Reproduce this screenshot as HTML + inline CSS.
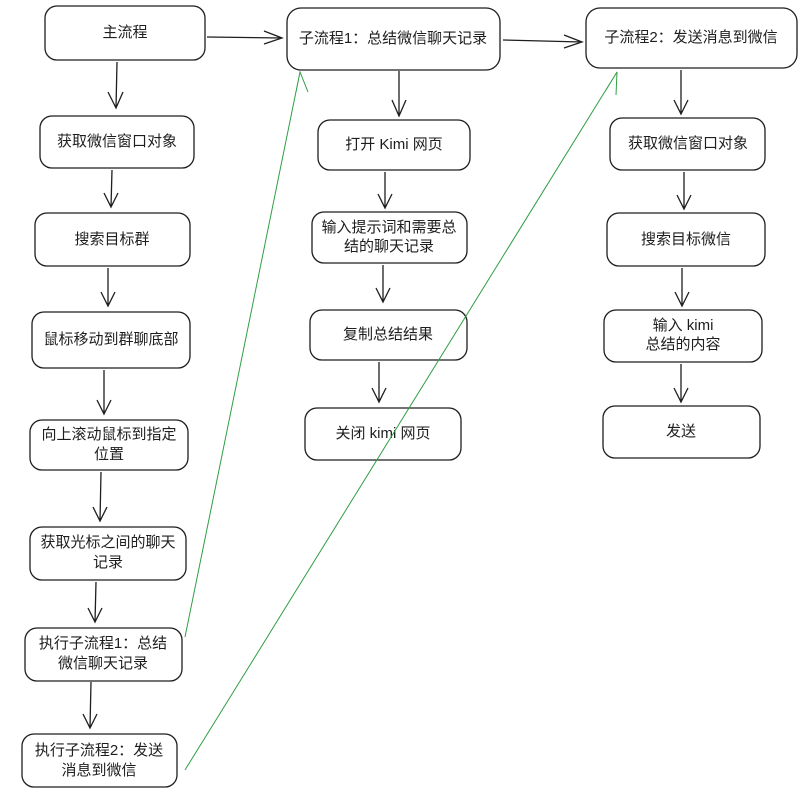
<!DOCTYPE html>
<html><head><meta charset="utf-8"><style>
html,body{margin:0;padding:0;background:#fff}
svg{display:block}
text{font-family:"Liberation Sans","Noto Sans CJK SC",sans-serif;font-size:15px;fill:#1e1e1e;text-anchor:middle;dominant-baseline:middle}
.b{fill:#fff;stroke:#1e1e1e;stroke-width:1.3}
.a{stroke:#1e1e1e;stroke-width:1.3;fill:none}
.g{stroke:#2f9e44;stroke-width:1;fill:none}
</style></head><body>
<svg width="811" height="799" viewBox="0 0 811 799" xmlns="http://www.w3.org/2000/svg">
<!-- column 1 -->
<rect class="b" x="45" y="6" width="160" height="54" rx="12"/><text x="125" y="33">主流程</text>
<rect class="b" x="40" y="116" width="154" height="52" rx="12"/><text x="117" y="142">获取微信窗口对象</text>
<rect class="b" x="35" y="213" width="155" height="53" rx="12"/><text x="112" y="240">搜索目标群</text>
<rect class="b" x="32" y="312" width="158" height="56" rx="12"/><text x="111" y="340">鼠标移动到群聊底部</text>
<rect class="b" x="30" y="420" width="158" height="50" rx="12"/><text x="109" y="435">向上滚动鼠标到指定</text><text x="109" y="455">位置</text>
<rect class="b" x="30" y="527" width="156" height="53" rx="12"/><text x="108" y="543">获取光标之间的聊天</text><text x="108" y="563">记录</text>
<rect class="b" x="25" y="628" width="157" height="53" rx="12"/><text x="103" y="644">执行子流程1：总结</text><text x="103" y="664">微信聊天记录</text>
<rect class="b" x="22" y="734" width="155" height="53" rx="12"/><text x="99" y="751">执行子流程2：发送</text><text x="99" y="771">消息到微信</text>
<!-- column 2 -->
<rect class="b" x="287" y="8" width="213" height="62" rx="14"/><text x="393" y="39">子流程1：总结微信聊天记录</text>
<rect class="b" x="318" y="120" width="152" height="50" rx="12"/><text x="394" y="145">打开 Kimi 网页</text>
<rect class="b" x="312" y="212" width="155" height="51" rx="12"/><text x="389" y="228">输入提示词和需要总</text><text x="389" y="247">结的聊天记录</text>
<rect class="b" x="310" y="310" width="157" height="50" rx="12"/><text x="388" y="335">复制总结结果</text>
<rect class="b" x="305" y="408" width="156" height="52" rx="12"/><text x="383" y="434">关闭 kimi 网页</text>
<!-- column 3 -->
<rect class="b" x="586" y="8" width="211" height="60" rx="14"/><text x="691" y="38">子流程2：发送消息到微信</text>
<rect class="b" x="610" y="118" width="155" height="52" rx="12"/><text x="688" y="144">获取微信窗口对象</text>
<rect class="b" x="607" y="213" width="158" height="53" rx="12"/><text x="686" y="240">搜索目标微信</text>
<rect class="b" x="604" y="310" width="158" height="52" rx="12"/><text x="683" y="326">输入 kimi</text><text x="683" y="345">总结的内容</text>
<rect class="b" x="603" y="406" width="157" height="52" rx="12"/><text x="681" y="432">发送</text>
<!-- vertical arrows -->
<g class="a">
<path d="M117 62 L116 108 M108 92 L116 108 L123 92"/>
<path d="M112 170 L111 207 M104 193 L111 207 L118 193"/>
<path d="M108 268 L108 306 M101 292 L108 306 L115 292"/>
<path d="M104 370 L104 414 M97 400 L104 414 L111 400"/>
<path d="M101 472 L100 521 M93 507 L100 521 L107 507"/>
<path d="M96 582 L95 622 M88 608 L95 622 L102 608"/>
<path d="M91 682 L90 728 M83 714 L90 728 L97 714"/>
<path d="M399 71 L399 116 M392 100 L399 116 L406 100"/>
<path d="M385 172 L385 208 M378 194 L385 208 L392 194"/>
<path d="M383 265 L383 302 M376 288 L383 302 L390 288"/>
<path d="M379 362 L379 402 M372 388 L379 402 L386 388"/>
<path d="M681 70 L681 114 M674 100 L681 114 L688 100"/>
<path d="M684 172 L684 209 M677 195 L684 209 L691 195"/>
<path d="M682 268 L682 306 M675 292 L682 306 L689 292"/>
<path d="M681 364 L681 402 M674 388 L681 402 L688 388"/>
<path d="M207 37 L282 38 M264 31 L282 38 L264 44"/>
<path d="M503 40 L582 42 M564 35 L582 42 L564 48"/>
</g>
<g class="g">
<path d="M185 637 L300 72 M296 92 L300 72 L308 92"/>
<path d="M185 770 L617 72 M606 90 L617 72 L616 95"/>
</g>
</svg>
</body></html>
